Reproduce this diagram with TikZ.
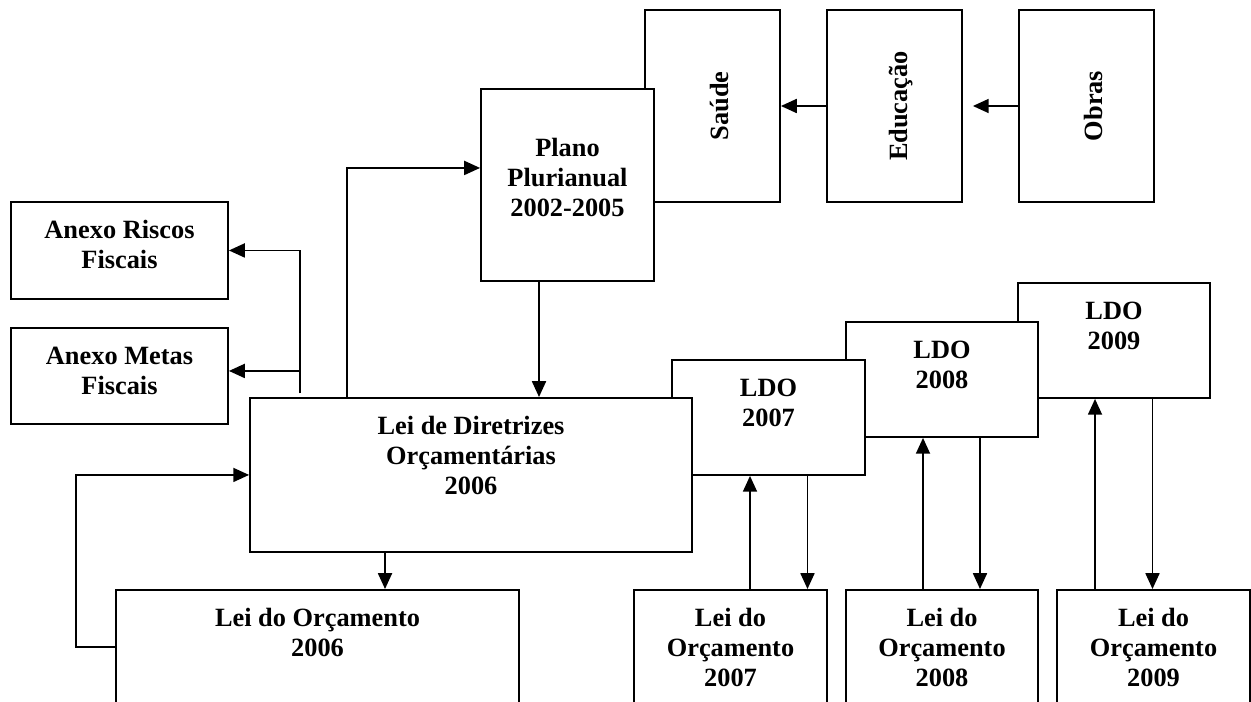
\documentclass[tikz,border=0pt]{standalone}
\usepackage{fontspec}
\setmainfont{Liberation Serif}
\usepackage{graphicx}
\usepackage{tikz}
\usetikzlibrary{arrows.meta,positioning}
\newcommand{\sidetext}[1]{\rotatebox{90}{\raisebox{-4pt}[\height][\depth]{#1}}}
\tikzstyle{arrow} = [line width=0.9pt,-{Triangle[length=9pt,width=8pt]}]
\tikzstyle{box} = [rectangle, draw, fill=white, line width=1.1pt, anchor=north, inner sep=0pt, align=center, text height=1.33cm, font=\fontsize{15}{17.3}\selectfont\bfseries]
\tikzstyle{sidebox} = [rectangle, draw, fill=white, line width=1.1pt, inner sep=0pt, minimum width=2.7cm, minimum height=3.84cm, font=\fontsize{15}{17.3}\selectfont\bfseries]

\begin{document}
\begin{tikzpicture}[x=0.02cm, y=-0.02cm]
\useasboundingbox (0,0) rectangle (1251,702);
\clip (0,0) rectangle (1251,702);

% Programas
\node (saude) [sidebox] at (712.5,106) {\sidetext{Saúde}};
\node (educ) [sidebox, right of=saude, node distance=3.64cm] {\sidetext{Educação}};
\node (obras) [sidebox, right of=educ, node distance=3.84cm] {\sidetext{Obras}};
\node (plano) [box, minimum width=3.46cm, text height=2.56cm, text depth=1.28cm] at (567.5,88) {Plano\\Plurianual\\2002-2005};

% Anexos
\node (riscos) [box, minimum width=4.34cm, text depth=0.61cm] at (119.5,201) {Anexo Riscos\\Fiscais};
\node (metas) [box, minimum width=4.34cm, text depth=0.59cm] at (119.5,327) {Anexo Metas\\Fiscais};

% LDOs
\node (ldo9) [box, minimum width=3.84cm, text depth=0.97cm] at (1114,282) {LDO\\2009};
\node (ldo8) [box, minimum width=3.84cm, text depth=0.97cm] at (942,321) {LDO\\2008};
\node (ldo7) [box, minimum width=3.86cm, text depth=0.97cm] at (768.5,359) {LDO\\2007};
\node (ldo) [box, minimum width=8.84cm, text height=1.94cm, text depth=1.14cm] at (471,397) {Lei de Diretrizes\\Orçamentárias\\2006};

% Leis do orcamento
\node (lo6) [box, minimum width=8.06cm, text depth=2cm] at (317.5,589) {Lei do Orçamento\\2006};
\node (lo7) [box, minimum width=3.86cm, text height=1.94cm, text depth=2cm] at (730.5,589) {Lei do\\Orçamento\\2007};
\node (lo8) [box, minimum width=3.84cm, text height=1.94cm, text depth=2cm] at (942,589) {Lei do\\Orçamento\\2008};
\node (lo9) [box, minimum width=3.86cm, text height=1.94cm, text depth=2cm] at (1153.5,589) {Lei do\\Orçamento\\2009};

% Ligacoes
\draw[arrow] (educ) -- (saude);
\draw[arrow, shorten >=0.2cm] (obras) -- (educ);
\draw[arrow] ([xshift=-0.57cm]plano.south) -- ([xshift=-0.57cm]plano.south |- ldo.north);
\draw[arrow] ([xshift=-2.48cm]ldo.north) |- ([yshift=0.34cm]plano.west);
\draw[arrow] ([xshift=-3.42cm,yshift=0.08cm]ldo.north) |- (riscos.east);
\draw[arrow] ([xshift=-3.42cm,yshift=0.08cm]ldo.north) |- ([yshift=0.1cm]metas.east);
\draw[arrow] ([xshift=-1.72cm]ldo.south) -- ([xshift=-1.72cm]ldo.south |- lo6.north);
\draw[arrow] ([yshift=-1.16cm]lo6.north west) -- ++(-0.78cm,0) |- (ldo.west);

\draw[arrow] ([xshift=0.39cm]lo7.north) -- ([xshift=0.39cm]lo7.north |- ldo7.south);
\draw[arrow] ([xshift=0.78cm]ldo7.south) -- ([xshift=0.78cm]ldo7.south |- lo7.north);
\draw[arrow] ([xshift=-0.38cm]lo8.north) -- ([xshift=-0.38cm]lo8.north |- ldo8.south);
\draw[arrow] ([xshift=0.76cm]ldo8.south) -- ([xshift=0.76cm]ldo8.south |- lo8.north);
\draw[arrow] ([xshift=-1.17cm]lo9.north) -- ([xshift=-1.17cm]lo9.north |- ldo9.south);
\draw[arrow] ([xshift=0.77cm]ldo9.south) -- ([xshift=0.77cm]ldo9.south |- lo9.north);
\end{tikzpicture}
\end{document}
